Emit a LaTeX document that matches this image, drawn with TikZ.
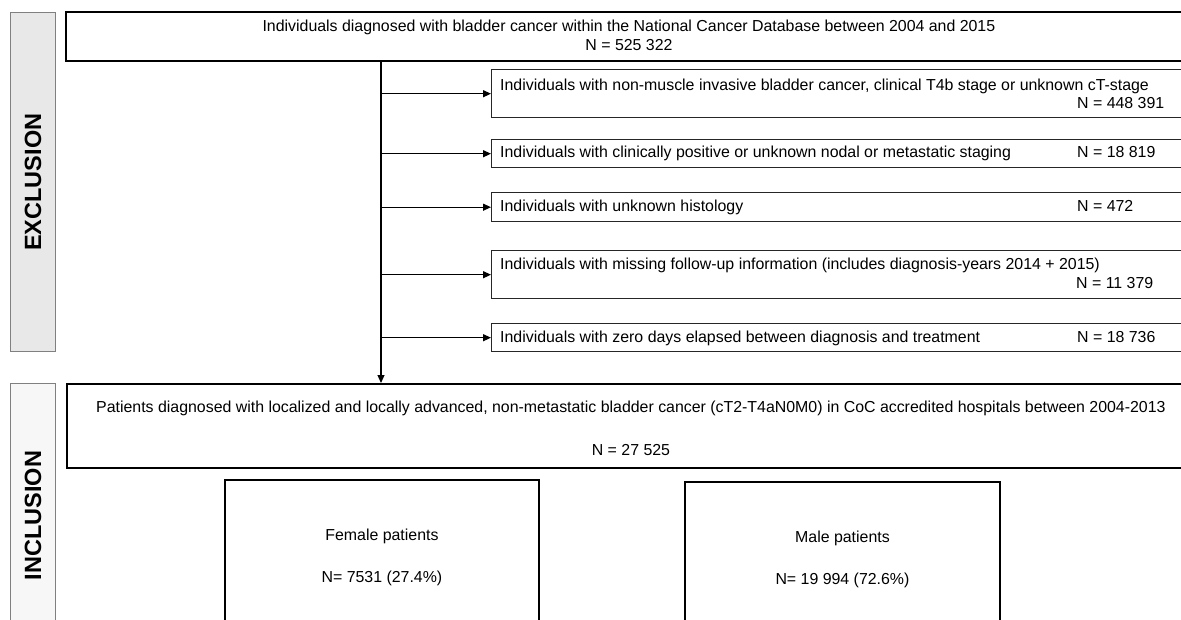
\documentclass[tikz,border=0pt]{standalone}
\usepackage{fontspec}
\setmainfont{Liberation Sans}
\usetikzlibrary{positioning,arrows.meta}

\tikzset{
	box/.style={draw, line width=1.9pt, anchor=north west, inner sep=0pt},
	exbox/.style={draw=black!85, line width=1.4pt, anchor=north west, inner sep=0pt, minimum width=720pt},
	bar/.style={draw=black!50, line width=1.3pt, anchor=north west, inner sep=0pt, minimum width=45pt},
	txt/.style={inner sep=0pt, font=\fontsize{15.9}{19}\selectfont},
	bartxt/.style={inner sep=0pt, rotate=90, font=\bfseries\fontsize{23.5}{28}\selectfont},
	arr/.style={line width=1.2pt, -{Triangle[length=8pt,width=7pt]}},
}

\begin{document}
\begin{tikzpicture}[x=1pt, y=-1pt]
	\useasboundingbox (0,0) rectangle (1181,620);
	\clip (0,0) rectangle (1181,620);
	
	\node[bar, fill=black!9, minimum height=339pt] (exclbar) at (10,12) {};
	\node[bartxt] (excl) at (exclbar.center) {EXCLUSION};
	\node[bar, fill=black!3, minimum height=264pt] (inclbar) at (10,383) {};
	\node[bartxt] (incl) at (inclbar.center) {INCLUSION};
	
	\node[box, minimum width=1126pt, minimum height=49pt] (all) at (65,11) {};
	\node[txt, anchor=base] (all1) at (all.center |- 0,32) {Individuals diagnosed with bladder cancer within the National Cancer Database between 2004 and 2015};
	\node[txt, anchor=base] (all2) at (all.center |- 0,51) {N = 525 322};
	
	\node[exbox, minimum height=48pt] (ex1) at (491,69) {};
	\node[exbox, minimum height=28pt] (ex2) at (491,139) {};
	\node[exbox, minimum height=29pt] (ex3) at (491,192) {};
	\node[exbox, minimum height=48pt] (ex4) at (491,250) {};
	\node[exbox, minimum height=28pt] (ex5) at (491,323) {};
	
	\node[txt, anchor=base west] (ex1t) at (500,91) {Individuals with non-muscle invasive bladder cancer, clinical T4b stage or unknown cT-stage};
	\node[txt, anchor=base west] (ex1n) at (1077,109) {N = 448 391};
	\node[txt, anchor=base west] (ex2t) at (500,158) {Individuals with clinically positive or unknown nodal or metastatic staging};
	\node[txt, anchor=base west] (ex2n) at (1077,158) {N = 18 819};
	\node[txt, anchor=base west] (ex3t) at (500,212) {Individuals with unknown histology};
	\node[txt, anchor=base west] (ex3n) at (1077,212) {N = 472};
	\node[txt, anchor=base west] (ex4t) at (500,270) {Individuals with missing follow-up information (includes diagnosis-years 2014 + 2015)};
	\node[txt, anchor=base west] (ex4n) at (1076,289) {N = 11 379};
	\node[txt, anchor=base west] (ex5t) at (500,343) {Individuals with zero days elapsed between diagnosis and treatment};
	\node[txt, anchor=base west] (ex5n) at (1077,343) {N = 18 736};
	
	\node[box, minimum width=1128pt, minimum height=84pt] (cohort) at (66,383) {};
	\node[txt, anchor=base] (cohort1) at (cohort.center |- 0,412) {Patients diagnosed with localized and locally advanced, non-metastatic bladder cancer (cT2-T4aN0M0) in CoC accredited hospitals between 2004-2013};
	\node[txt, anchor=base] (cohort2) at (cohort.center |- 0,455) {N = 27 525};
	
	\node[box, minimum width=314pt, minimum height=154pt] (female) at (224,479) {};
	\node[txt, anchor=base] (female1) at (female.center |- 0,540) {Female patients};
	\node[txt, anchor=base] (female2) at (female.center |- 0,582) {N= 7531 (27.4\%)};
	\node[box, minimum width=315pt, minimum height=154pt] (male) at (684,481) {};
	\node[txt, anchor=base] (male1) at (male.center |- 0,542) {Male patients};
	\node[txt, anchor=base] (male2) at (male.center |- 0,584) {N= 19 994 (72.6\%)};
	
	\coordinate (trunk) at (381,0);
	\draw[arr] (all.south -| trunk) -- (cohort.north -| trunk);
	\foreach \i in {1,...,5}
		\draw[arr] (ex\i.west -| trunk) -- (ex\i.west);
\end{tikzpicture}
\end{document}
